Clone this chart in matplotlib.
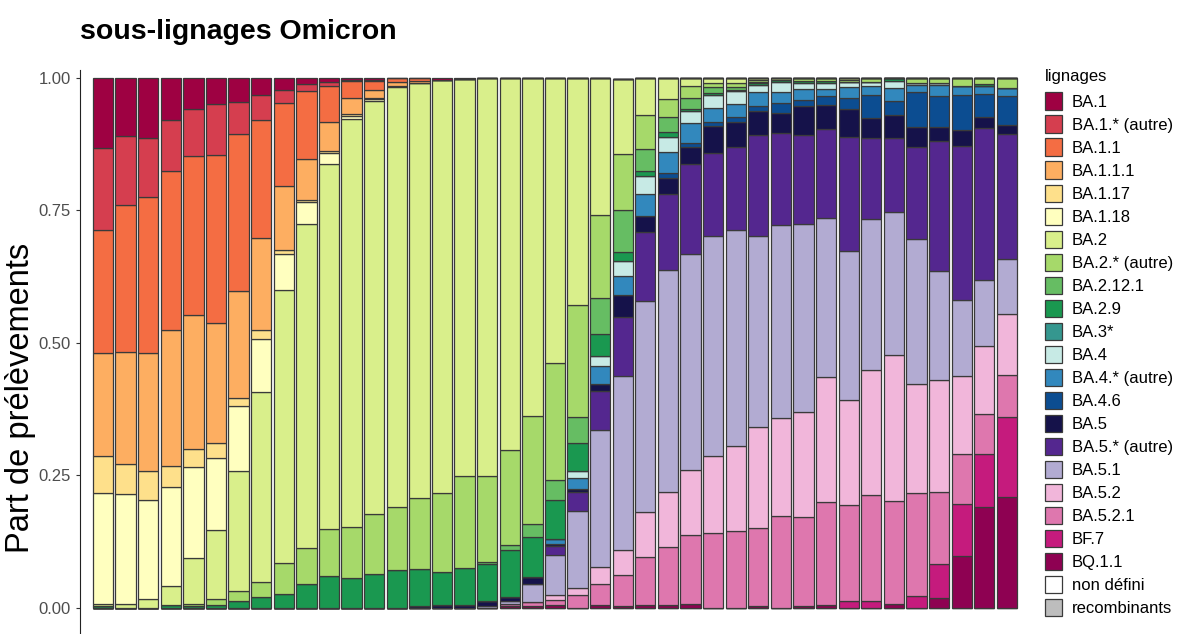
import matplotlib
matplotlib.use("Agg")
import matplotlib.pyplot as plt
from matplotlib.patches import Patch
import numpy as np

plt.rcParams['font.family'] = ['Liberation Sans', 'DejaVu Sans']

# proportions par semaine (41 barres)
ba_1 = [.132, .110, .114, .079, .058, .050, .045, .032, .022, .012, .007, .003, .003, 0, 0, .003, .002] + [0] * 24
ba_1_autre = [.155, .130, .110, .097, .089, .095, .061, .047, .026, .013, .008, .003, .002] + [0] * 28
ba_1_1 = [.232, .278, .295, .300, .300, .317, .296, .224, .156, .129, .068, .032, .017, .008, .006] + [0] * 26
ba_1_1_1 = [.195, .211, .224, .256, .253, .228, .202, .173, .121, .076, .055, .030, .016, .008, .004] + [0] * 26
ba_1_17 = [.070, .056, .054, .040, .034, .028, .015, .017, .007, .005, .003, .004, .002] + [0] * 28
ba_1_18 = [.210, .208, .186, .187, .172, .136, .124, .100, .069, .041, .021, .006, .003, .002] + [0] * 27
ba_2 = [.003, .007, .017, .036, .087, .129, .226, .358, .515, .612, .690, .770, .781, .792, .783,
        .780, .749, .751, .703, .638, .539, .429, .259, .142, .070, .040, .016, .009, .009, .003,
        .003, 0, 0, .003, 0, 0, 0, 0, 0, 0, 0]
ba_2_autre = [0, 0, 0, 0, .004, .012, .019, .029, .058, .067, .089, .096, .112, .120, .134,
              .150, .174, .163, .178, .205, .221, .211, .157, .105, .064, .033, .022, .009, .008, .004,
              0, .005, .006, .004, .007, 0, .009, .009, .016, .012, .019]
ba_2_12_1 = [0] * 17 + [.003, .010, .024, .037, .049, .068, .080, .041, .030, .020, .011, .005, .002] + [0] * 11
ba_2_9 = [.003, 0, 0, .005, .003, .005, .012, .020, .026, .045, .059, .056, .064, .070, .070,
          .062, .070, .070, .089, .076, .073, .053, .041, .017, .010, .008, .004, .003, .003, .004,
          .004, .004, .004, 0, 0, .006, 0, 0, 0, .004, 0]
ba_3 = [0] * 41
ba_4 = [0] * 21 + [.013, .019, .028, .034, .028, .024, .024, .024, .014, .019, .012, .010, .011, .008,
                   .013, .005, .004, 0, 0, 0]
ba_4_autre = [0] * 20 + [.010, .022, .034, .036, .042, .040, .037, .027, .024, .026, .021, .020, .014,
                         .019, .017, .024, .013, .022, .017, .014, .016]
ba_4_6 = [0] * 25 + [.010, .007, .008, .010, .010, .019, .012, .018, .021, .043, .027, .066, .058,
                     .065, .043, .054]
ba_5 = [0] * 14 + [.003, .005, .005, .010, .007, .013, .004, .005, .013, .042, .030, .031, .033, .051,
                   .047, .045, .038, .055, .045, .054, .038, .043, .038, .026, .030, .022, .017]
ba_5_autre = [0] * 20 + [.016, .036, .074, .111, .130, .143, .169, .157, .157, .190, .173, .167, .168,
                         .214, .154, .141, .173, .245, .292, .287, .236]
ba_5_1 = [0] * 17 + [.003, .007, .033, .076, .146, .259, .328, .399, .418, .408, .414, .408, .362,
                     .366, .355, .299, .283, .285, .270, .274, .207, .143, .125, .103]
ba_5_2 = [0] * 20 + [.009, .012, .031, .047, .085, .105, .124, .147, .161, .189, .184, .199, .237,
                     .197, .236, .274, .206, .210, .147, .128, .115]
ba_5_2_1 = [0] * 18 + [.003, .008, .010, .024, .040, .060, .090, .110, .129, .140, .144, .149, .173,
                       .168, .194, .181, .200, .195, .195, .136, .094, .075, .080]
bf_7 = [0] * 33 + [.013, .012, 0, .021, .065, .098, .100, .151]
bq_1_1 = [0] * 18 + [.003, .003, .005, 0, .005, .002, .005, .004, .007, 0, 0, .002, 0, .003, .005,
                     0, 0, .007, 0, .018, .098, .190, .209]
non_defini = [0] * 41
recombinants = [0] * 41

lignages = ['BA.1', 'BA.1.* (autre)', 'BA.1.1', 'BA.1.1.1', 'BA.1.17', 'BA.1.18', 'BA.2',
            'BA.2.* (autre)', 'BA.2.12.1', 'BA.2.9', 'BA.3*', 'BA.4', 'BA.4.* (autre)', 'BA.4.6',
            'BA.5', 'BA.5.* (autre)', 'BA.5.1', 'BA.5.2', 'BA.5.2.1', 'BF.7', 'BQ.1.1',
            'non défini', 'recombinants']
parts = [ba_1, ba_1_autre, ba_1_1, ba_1_1_1, ba_1_17, ba_1_18, ba_2, ba_2_autre, ba_2_12_1, ba_2_9,
         ba_3, ba_4, ba_4_autre, ba_4_6, ba_5, ba_5_autre, ba_5_1, ba_5_2, ba_5_2_1, bf_7, bq_1_1,
         non_defini, recombinants]
couleurs = ['#9e0142', '#d53e4f', '#f46d43', '#fdae61', '#fee08b', '#ffffbf', '#d9ef8b',
            '#a6d96a', '#66bd63', '#1a9850', '#35978f', '#c7eae5', '#3288bd', '#0c4d91',
            '#15124a', '#54278f', '#b2abd2', '#f1b6da', '#de77ae', '#c51b7d', '#8e0152',
            '#ffffff', '#bdbdbd']

n = len(ba_1)
x = np.arange(n)

fig = plt.figure(figsize=(11.83, 6.34), dpi=100)
ax = fig.add_axes([0.0676, 0.0, 0.803, 0.8896])

# ggplot empile le premier niveau en haut : on part du bas
bottom = np.zeros(n)
for lab, vals, col in reversed(list(zip(lignages, parts, couleurs))):
    v = np.array(vals, dtype=float)
    ax.bar(x, v, width=0.9, bottom=bottom, color=col, edgecolor='#3a3a3a', linewidth=0.9)
    bottom += v

ax.set_xlim(-1.02, n - 1 + 1.02)
ax.set_ylim(-0.05, 1.015)
ax.set_yticks([0, 0.25, 0.5, 0.75, 1.0])
ax.set_yticklabels(['0.00', '0.25', '0.50', '0.75', '1.00'], fontsize=12, color='#4d4d4d')
ax.set_xticks([])
ax.tick_params(axis='y', length=3, color='#333333')
for s in ['top', 'right', 'bottom']:
    ax.spines[s].set_visible(False)
ax.spines['left'].set_color('#222222')
ax.set_ylabel('Part de prélèvements', fontsize=23.5)
ax.yaxis.set_label_coords(-0.046, 0.418)

fig.text(0.0676, 0.950, 'sous-lignages Omicron', fontsize=20.5, fontweight='bold', ha='left', va='center')

handles = [Patch(facecolor=c, edgecolor='#3a3a3a', linewidth=0.9) for c in couleurs]
leg = fig.legend(handles, lignages, loc='upper left', bbox_to_anchor=(0.883, 0.891),
                 title='lignages', fontsize=12, title_fontsize=12, frameon=False,
                 handlelength=1.02, handleheight=1.24, labelspacing=0.33, handletextpad=0.6,
                 borderaxespad=0, borderpad=0)
leg._legend_box.align = 'left'
leg._legend_box.sep = 6

fig.savefig('out.png', dpi=100)
